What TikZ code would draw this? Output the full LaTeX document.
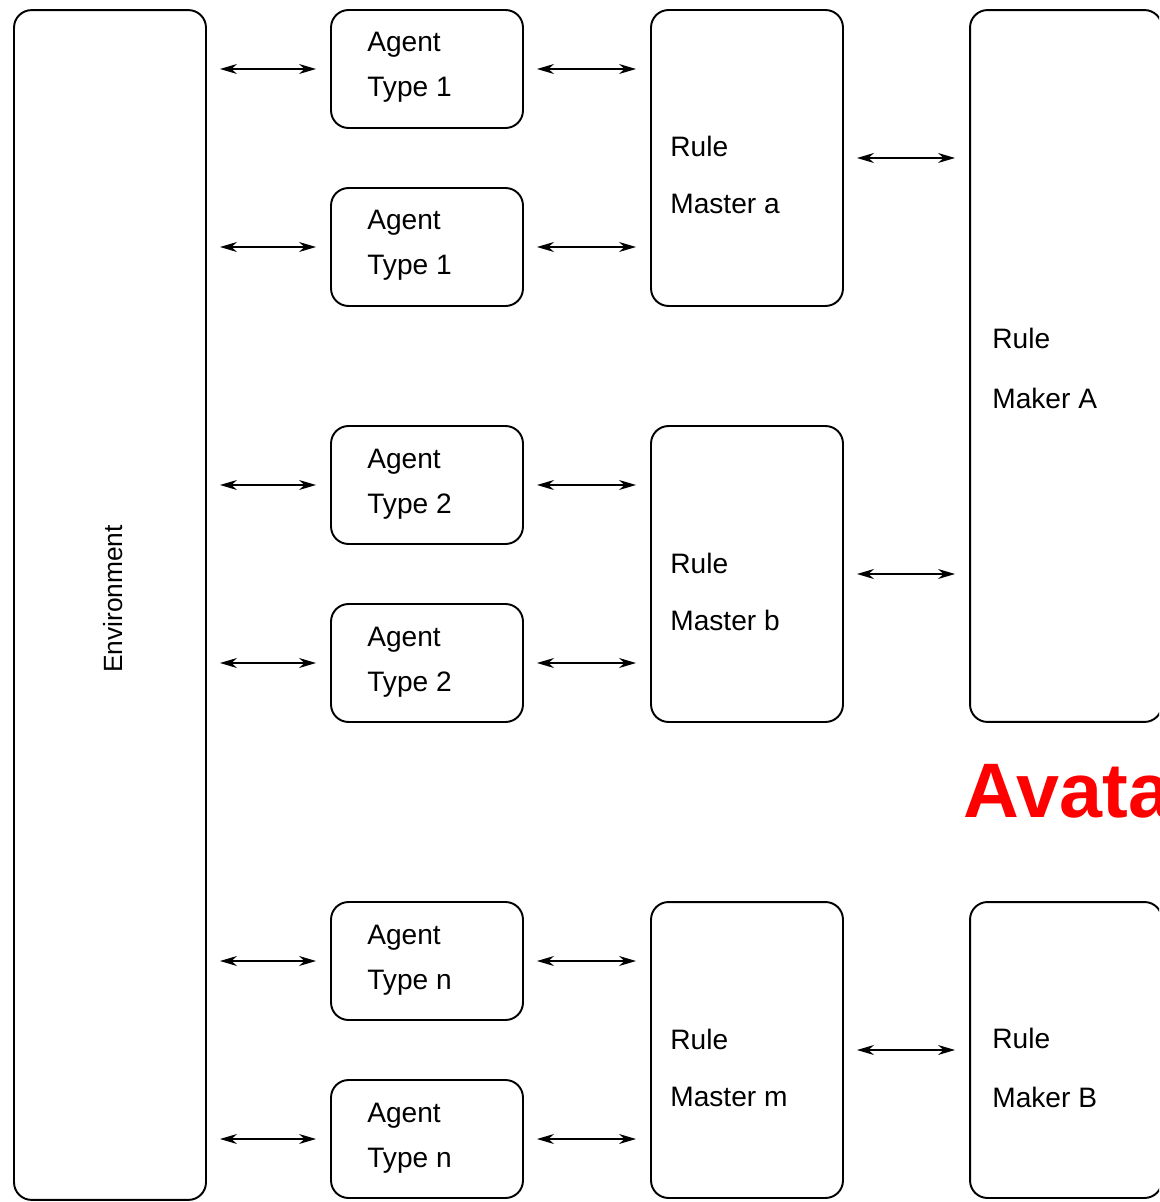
\documentclass[tikz,border=0pt]{standalone}
\usepackage{fontspec}
\setmainfont{Liberation Sans}
\usetikzlibrary{arrows.meta}
\begin{document}
\begin{tikzpicture}[>={Stealth[length=0.34cm,width=0.2cm]},x=0.02cm,y=-0.02cm,
	box/.style={draw,line width=1.1pt,rounded corners=0.35cm,inner sep=0pt,outer sep=0pt},
	lbl/.style={anchor=base west,inner sep=0pt,font=\fontsize{16}{19}\selectfont},
	conn/.style={<->,line width=0.8pt,shorten <=0.28cm,shorten >=0.3cm}]
	\def\boxw{3.84cm} % gleiche Breite fuer alle Kaesten
	\useasboundingbox (0,0) rectangle (1159,1202);
	\clip (0,0) rectangle (1159,1202);
	% Umgebung
	\node[box,minimum width=\boxw,minimum height=23.8cm] (env) at (110,605) {};
	\node[rotate=90,inner sep=0pt,font=\fontsize{15}{18}\selectfont] (envtxt) at (113,599) {Environment};
	% Rule Master
	\foreach \y/\m in {158/a,574/b,1050/m}{
		\node[box,minimum width=\boxw,minimum height=5.92cm] (rm\m) at (747,\y) {};
		\node[lbl] (rmr\m) at (670,\y-1) {Rule};
		\node[lbl] (rmt\m) at (670,\y+56) {Master \m};
	}
	% Rule Maker
	\node[box,minimum width=\boxw,minimum height=14.24cm] (rmkA) at (1066,366) {};
	\node[lbl] (rmkrA) at (992,349) {Rule};
	\node[lbl] (rmktA) at (992,408) {Maker A};
	\node[box,minimum width=\boxw,minimum height=5.92cm] (rmkB) at (1066,1050) {};
	\node[lbl] (rmkrB) at (992,1048) {Rule};
	\node[lbl] (rmktB) at (992,1107) {Maker B};
	% Agenten
	\foreach \y/\tp/\m [count=\i] in {69/1/a,247/1/a,485/2/b,663/2/b,961/n/m,1139/n/m}{
		\node[box,minimum width=\boxw,minimum height=2.36cm] (ag\i) at (427,\y) {};
		\node[lbl] (aga\i) at (367,\y-17) {Agent};
		\node[lbl] (agt\i) at (367,\y+28) {Type \tp};
		\draw[conn] (ag\i.west -| env.east) -- (ag\i.west);
		\draw[conn] (ag\i.east) -- (ag\i.east -| rm\m.west);
	}
	\draw[conn] (rma.east) -- (rma.east -| rmkA.west);
	\draw[conn] (rmb.east) -- (rmb.east -| rmkA.west);
	\draw[conn] (rmm.east) -- (rmkB.west);
	\node[anchor=base west,inner sep=0pt,text=red,font=\bfseries\fontsize{44}{50}\selectfont] (avatar) at (963,817) {Avata};
\end{tikzpicture}
\end{document}
